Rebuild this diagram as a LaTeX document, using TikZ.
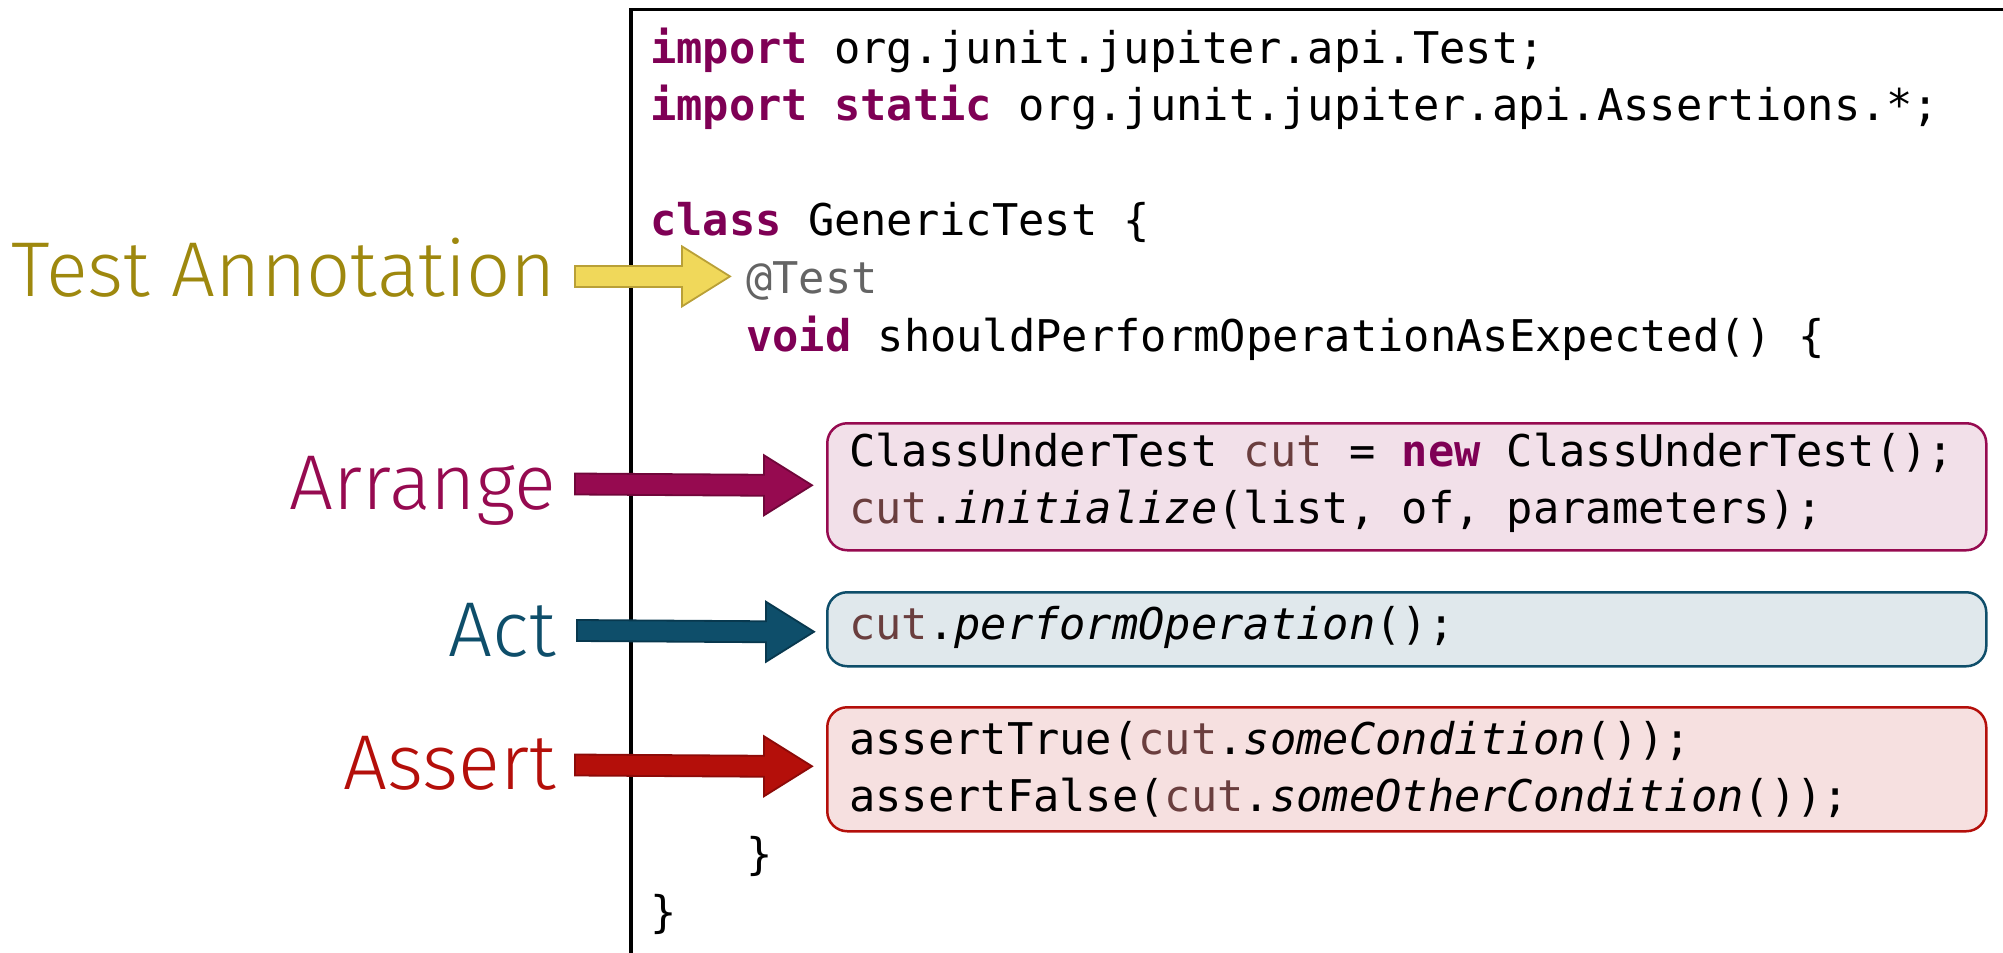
\documentclass[tikz,border=0pt]{standalone}
\usepackage{fontspec}
\setmonofont{DejaVu Sans Mono}
\newfontfamily\labelfont{Fira Sans Light}
\usetikzlibrary{calc}

% palette
\definecolor{kwCol}{RGB}{127,0,85}
\definecolor{varCol}{RGB}{106,62,62}
\definecolor{annCol}{RGB}{100,100,100}
\definecolor{testCol}{RGB}{158,136,14}
\definecolor{testFill}{RGB}{240,216,90}
\definecolor{testEdge}{RGB}{185,160,55}
\definecolor{arrCol}{RGB}{150,10,80}
\definecolor{arrEdge}{RGB}{112,6,58}
\definecolor{arrFill}{RGB}{242,224,233}
\definecolor{actCol}{RGB}{14,78,106}
\definecolor{actEdge}{RGB}{8,56,78}
\definecolor{actFill}{RGB}{224,232,236}
\definecolor{asrCol}{RGB}{180,15,10}
\definecolor{asrEdge}{RGB}{140,10,8}
\definecolor{asrFill}{RGB}{246,224,224}

% syntax highlighting helpers
\newcommand\kw[1]{\textcolor{kwCol}{\bfseries #1}}
\newcommand\vr[1]{\textcolor{varCol}{#1}}
\newcommand\an[1]{\textcolor{annCol}{#1}}

% block arrow between two named coordinates
\newcommand\blockarrow[3]{%
  \filldraw[#1] ($(#2)+(0,-10.5)$) -- ($(#3)+(-48,-10.5)$) -- ($(#3)+(-48,-30)$)
    -- (#3) -- ($(#3)+(-48,30)$) -- ($(#3)+(-48,10.5)$) -- ($(#2)+(0,10.5)$) -- cycle;}

\tikzset{
  codeline/.style={anchor=base west, inner sep=0pt,
    font=\ttfamily\fontsize{43.7}{57.6}\selectfont},
  phaselabel/.style={anchor=base east, inner sep=0pt,
    font=\labelfont\fontsize{77.7}{82}\selectfont},
  phasebox/.style={draw=#1, line width=2.5pt, rounded corners=20pt,
    anchor=north west, inner sep=0pt, minimum width=1159pt},
  arrowbody/.style={line width=1.8pt, line join=miter},
  codeframe/.style={draw=black, line width=3.2pt}
}

\begin{document}
\begin{tikzpicture}[x=1pt, y=-1pt]
\useasboundingbox (0,0) rectangle (2003,953);

% the editor frame, open to the right and bottom
\begin{scope}
  \clip (0,0) rectangle (2003,953);
  \draw[codeframe] (631,1000) -- (631,9.5) -- (2050,9.5);
\end{scope}

% highlighted phase boxes
\node[phasebox=arrCol, fill=arrFill, minimum height=127pt] (arrangeBox) at (826,422) {};
\node[phasebox=actCol, fill=actFill, minimum height=74pt]  (actBox)     at (826,591) {};
\node[phasebox=asrCol, fill=asrFill, minimum height=124pt] (assertBox)  at (826,706) {};

% source code
\node[codeline] (l1)  at (650,63)    {\kw{import} org.junit.jupiter.api.Test;};
\node[codeline] (l2)  at (650,120.6) {\kw{import} \kw{static} org.junit.jupiter.api.Assertions.*;};
\node[codeline] (l4)  at (650,235.8) {\kw{class} GenericTest \{};
\node[codeline] (l5)  at (746,293.4) {\an{@Test}};
\node[codeline] (l6)  at (746,351)   {\kw{void} shouldPerformOperationAsExpected() \{};
\node[codeline] (l8)  at (849,466.2) {ClassUnderTest \vr{cut} = \kw{new} ClassUnderTest();};
\node[codeline] (l9)  at (849,523.8) {\vr{cut}.\textit{initialize}(list, of, parameters);};
\node[codeline] (l11) at (849,639)   {\vr{cut}.\textit{performOperation}();};
\node[codeline] (l13) at (849,754.2) {assertTrue(\vr{cut}.\textit{someCondition}());};
\node[codeline] (l14) at (849,811.8) {assertFalse(\vr{cut}.\textit{someOtherCondition}());};
\node[codeline] (l15) at (746,869.4) {\}};
\node[codeline] (l16) at (650,927)   {\}};

% phase labels
\node[phaselabel, text=testCol] (annLbl)    at (556,296) {Test Annotation};
\node[phaselabel, text=arrCol]  (arrangeLbl) at (556,509) {Arrange};
\node[phaselabel, text=actCol]  (actLbl)     at (556,656) {Act};
\node[phaselabel, text=asrCol]  (assertLbl)  at (556,789) {Assert};

% arrow ends
\coordinate (annTail) at (575,276.5);
\coordinate (annTip)  at ($(l5.base west)+(-16,-17)$);
\coordinate (arrTail) at (575,484);
\coordinate (arrTip)  at ($(arrangeBox.west)+(-14,-1.5)$);
\coordinate (actTail) at (577,630.5);
\coordinate (actTip)  at ($(actBox.west)+(-12,2.5)$);
\coordinate (asrTail) at (575,765);
\coordinate (asrTip)  at ($(assertBox.west)+(-14,-3)$);

\blockarrow{arrowbody, fill=testFill, draw=testEdge}{annTail}{annTip}
\blockarrow{arrowbody, fill=arrCol, draw=arrEdge}{arrTail}{arrTip}
\blockarrow{arrowbody, fill=actCol, draw=actEdge}{actTail}{actTip}
\blockarrow{arrowbody, fill=asrCol, draw=asrEdge}{asrTail}{asrTip}
\end{tikzpicture}
\end{document}
